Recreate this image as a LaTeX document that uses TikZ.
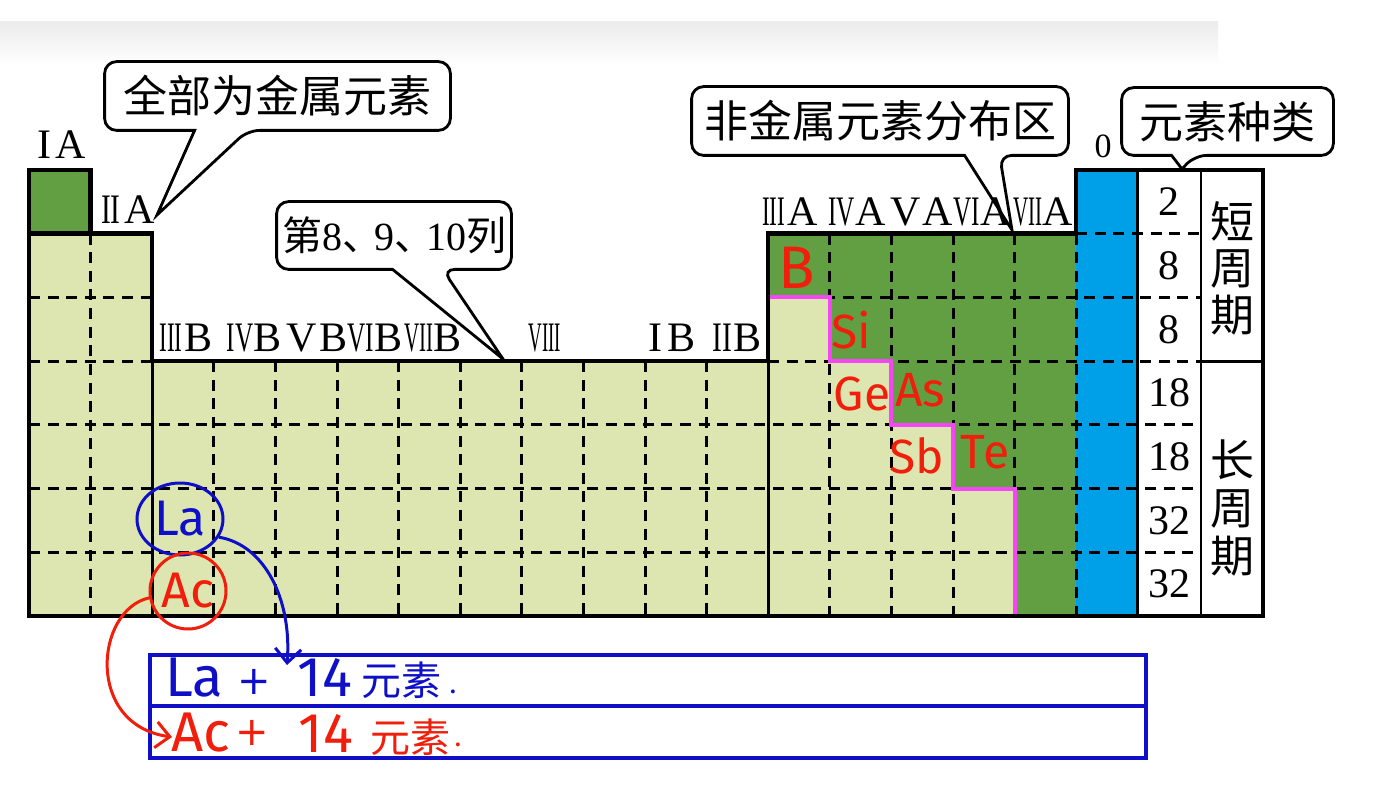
\documentclass[tikz,border=0pt]{standalone}
\usepackage{fontspec}
\usepackage{graphicx}
\setmainfont{Liberation Serif}
\newfontfamily\cjk{Noto Sans CJK SC}
\newfontfamily\handf{Fira Sans}
\newfontfamily\plusf{DejaVu Sans}
\usetikzlibrary{arrows.meta,calc,shapes.geometric}
\pgfdeclarelayer{back}
\pgfsetlayers{back,main}
\definecolor{lgreen}{RGB}{221,230,176}
\definecolor{dgreen}{RGB}{98,158,66}
\definecolor{cblue}{RGB}{0,160,233}
\definecolor{pmag}{RGB}{245,70,245}
\definecolor{hred}{RGB}{240,30,10}
\definecolor{hblue}{RGB}{15,15,200}
\definecolor{bandgray}{RGB}{236,236,236}
\newcommand{\RomN}[2]{\scalebox{#1}[1]{#2}}
\tikzset{
  outline/.style={line width=2.2pt, line join=miter},
  griddash/.style={line width=1.5pt, dash pattern=on 5.5pt off 3.8pt},
  thinsolid/.style={line width=1.4pt},
  callout/.style={draw, line width=1.4pt, fill=white},
  callouttext/.style={font=\cjk\fontsize{22}{24}\selectfont, inner sep=0pt},
  grp/.style={font=\fontsize{21}{21}\selectfont, inner sep=0pt},
  num/.style={font=\fontsize{21}{21}\selectfont, inner sep=0pt},
  vtxt/.style={font=\cjk\fontsize{22}{23.3}\selectfont, align=center, inner sep=0pt},
  redlab/.style={text=hred, font=\handf\fontsize{24}{24}\selectfont, inner sep=0pt},
  hwtext/.style={font=\handf\fontsize{28}{28}\selectfont, inner sep=0pt},
  hwplus/.style={font=\plusf\fontsize{20}{20}\selectfont, inner sep=0pt, text height=14pt, text depth=0pt},
  hwcjk/.style={font=\cjk\fontsize{20}{20}\selectfont, inner sep=0pt},
  hwarrow/.style={line width=1.5pt, -{Straight Barb[length=7pt,width=13pt,line width=1.5pt]}},
  bluebox/.style={draw=hblue, line width=2pt},
}
\begin{document}
\begin{tikzpicture}[x=0.5pt,y=-0.5pt]
\useasboundingbox (0,0) rectangle (1376,786);
\begin{pgfonlayer}{back}
  \fill[white] (0,0) rectangle (1376,786);
  \fill[top color=bandgray, bottom color=white] (0,22) rectangle (1218,66);
\end{pgfonlayer}

% ---- fills ----
\fill[lgreen] (29,233.7) rectangle (152.2,616);
\fill[lgreen] (152.2,361.1) rectangle (768.2,616);
\fill[dgreen] (29,170) rectangle (90.6,233.7);
\fill[dgreen] (768.2,233.7) rectangle (1076.2,616);
\fill[lgreen] (768.2,297.4) -- (829.8,297.4) -- (829.8,361.1) -- (891.4,361.1) -- (891.4,424.9) -- (953,424.9) -- (953,488.6) -- (1014.6,488.6) -- (1014.6,616) -- (768.2,616) -- cycle;
\fill[cblue] (1076.2,170) rectangle (1137.8,616);

% ---- dashed grid ----
\foreach \y in {297.4,361.1} {
  \draw[griddash] (29,\y) -- (152.2,\y);
  \draw[griddash] (768.2,\y) -- (1201,\y);
}
\foreach \y in {424.9,488.6,552.3} \draw[griddash] (29,\y) -- (1201,\y);
\draw[griddash] (1076.2,233.7) -- (1201,233.7);
\draw[griddash] (90.6,233.7) -- (90.6,616);
\foreach \x in {213.8,275.4,337,398.6,460.2,521.8,583.4,645,706.6} \draw[griddash] (\x,361.1) -- (\x,616);
\foreach \x in {829.8,891.4,953,1014.6,1076.2} \draw[griddash] (\x,233.7) -- (\x,616);

% ---- solid inner lines ----
\draw[thinsolid] (152.2,361.1) -- (152.2,616);
\draw[thinsolid] (768.2,361.1) -- (768.2,616);
\draw[thinsolid] (1137.8,170) -- (1137.8,616);
\draw[thinsolid] (1201,170) -- (1201,616);
\draw[thinsolid] (1201,361.1) -- (1263,361.1);

% ---- metalloid staircase ----
\draw[pmag, line width=2pt] (769.5,297.4) -- (829.8,297.4) -- (829.8,361.1) -- (891.4,361.1) -- (891.4,424.9) -- (953,424.9) -- (953,488.6) -- (1014.6,488.6) -- (1014.6,614);

% ---- outline ----
\draw[outline] (29,616) -- (29,170) -- (90.6,170) -- (90.6,233.7) -- (152.2,233.7) -- (152.2,361.1) -- (768.2,361.1) -- (768.2,233.7) -- (1076.2,233.7) -- (1076.2,170) -- (1263,170) -- (1263,616) -- cycle;
\draw[outline] (29,233.7) -- (90.6,233.7);

% ---- group labels ----
\node[grp] (gIA) at (62,145) {I\kern2pt A};
\node[grp] (gIIA) at (128,210) {\RomN{0.7}{II}\kern2pt A};
\node[grp] (gIIIB) at (186,338) {\RomN{0.55}{III}\kern1pt B};
\node[grp] (gIVB) at (254,338) {\RomN{0.6}{IV}B};
\node[grp] (gVB) at (317,338) {V\kern1pt B};
\node[grp] (gVIB) at (375,338) {\RomN{0.6}{VI}B};
\node[grp] (gVIIB) at (433,338) {\RomN{0.5}{VII}B};
\node[grp] (gVIII) at (545,338) {\RomN{0.45}{VIII}};
\node[grp] (gIB) at (672,338) {I\kern3pt B};
\node[grp] (gIIB) at (737,338) {\RomN{0.7}{II}\kern1pt B};
\node[grp] (gIIIA) at (790,212) {\RomN{0.55}{III}\kern1pt A};
\node[grp] (gIVA) at (857,212) {\RomN{0.6}{IV}A};
\node[grp] (gVA) at (922,212) {V\kern1pt A};
\node[grp] (gVIA) at (982,212) {\RomN{0.6}{VI}A};
\node[grp] (gVIIA) at (1043,212) {\RomN{0.5}{VII}A};
\node[grp, font=\fontsize{17}{17}\selectfont] (g0) at (1103,146) {0};

% ---- element counts ----
\node[num] (n1) at (1169,202) {2};
\node[num] (n2) at (1169,265.6) {8};
\node[num] (n3) at (1169,329.3) {8};
\node[num] (n4) at (1169,393) {18};
\node[num] (n5) at (1169,456.7) {18};
\node[num] (n6) at (1169,520.4) {32};
\node[num] (n7) at (1169,584.2) {32};
\node[vtxt] (shortp) at (1232,268) {短\\周\\期};
\node[vtxt, font=\cjk\fontsize{22}{24}\selectfont] (longp) at (1232,508) {长\\周\\期};

% ---- callouts ----
\node[callouttext, minimum width=172.5pt, minimum height=34pt] (c1) at (277.5,96) {全部为金属元素};
\node[callouttext, font=\cjk\fontsize{20}{24}\selectfont, minimum width=117pt, minimum height=33.5pt] (c2) at (394,235.5) {第{\rmfamily 8}、\kern-4pt{\rmfamily 9}、\kern-4pt{\rmfamily 10}列};
\node[callouttext, minimum width=188pt, minimum height=34pt] (c3) at (880,121) {非金属元素分布区};
\node[callouttext, minimum width=105.5pt, minimum height=33.5pt] (c4) at (1227.5,121.5) {元素种类};
\coordinate (t1) at (157,215);
\coordinate (t2) at (503,359);
\coordinate (t3) at (1012,230);
\coordinate (t4) at (1182,169);
\begin{pgfonlayer}{back}
\draw[callout, rounded corners=6pt] (c1.north west) -- (c1.north east) -- (c1.south east) -- ($(c1.south west)+(143,0)$) [sharp corners] -- (t1) -- ($(c1.south west)+(90,0)$) [rounded corners=6pt] -- (c1.south west) -- cycle;
\draw[callout, rounded corners=6pt] (c2.north west) -- (c2.north east) -- (c2.south east) -- ($(c2.south west)+(166,0)$) [sharp corners] -- (t2) -- ($(c2.south west)+(116,0)$) [rounded corners=6pt] -- (c2.south west) -- cycle;
\draw[callout, rounded corners=6pt] (c3.north west) -- (c3.north east) -- (c3.south east) -- ($(c3.south west)+(308,0)$) [sharp corners] -- (t3) -- ($(c3.south west)+(273,0)$) [rounded corners=6pt] -- (c3.south west) -- cycle;
\draw[callout, rounded corners=6pt] (c4.north west) -- (c4.north east) -- (c4.south east) -- ($(c4.south west)+(73,0)$) [sharp corners] -- (t4) -- ($(c4.south west)+(50,0)$) [rounded corners=6pt] -- (c4.south west) -- cycle;
\end{pgfonlayer}

% ---- red handwriting ----
\node[redlab, font=\handf\fontsize{30}{30}\selectfont] (eB) at (797,268) {B};
\node[redlab] (eSi) at (851,330) {Si};
\node[redlab] (eGe) at (862,394) {Ge};
\node[redlab] (eAs) at (920,390) {As};
\node[redlab] (eSb) at (917,456) {Sb};
\node[redlab] (eTe) at (985,452) {Te};

% ---- lanthanide / actinide notes ----
\draw[bluebox] (150,655) rectangle (1146,758);
\draw[bluebox] (150,705.5) -- (1146,705.5);
\node[ellipse, draw=hblue, line width=1.5pt, minimum width=43pt, minimum height=36pt, inner sep=0pt, text=hblue, font=\handf\fontsize{25}{25}\selectfont] (la) at (180,519) {La};
\node[circle, draw=hred, line width=1.5pt, minimum size=38pt, inner sep=0pt, text=hred, font=\handf\fontsize{25}{25}\selectfont] (ac) at (188,591) {Ac};
\coordinate (laend) at (287,665);
\coordinate (acend) at (172,737);
\draw[hwarrow, hblue] (la.-25) .. controls (265,545) and (292,600) .. (laend);
\draw[hwarrow, hred] (ac.190) .. controls (95,610) and (85,725) .. (acend);

\node[hwtext, text=hblue] (r1a) at (194,678) {La};
\node[hwplus, text=hblue] (r1b) at (254,680) {+};
\node[hwtext, text=hblue] (r1c) at (325,677) {14};
\node[hwcjk, text=hblue] (r1d) at (401,680) {元素};
\node[hwtext, text=hblue, font=\handf\fontsize{14}{14}\selectfont] (r1e) at (453,692) {.};
\node[hwtext, text=hred] (r2a) at (201,733) {Ac};
\node[hwplus, text=hred] (r2b) at (252,731) {+};
\node[hwtext, text=hred] (r2c) at (326,733) {14};
\node[hwcjk, text=hred] (r2d) at (410,737) {元素};
\node[hwtext, text=hred, font=\handf\fontsize{14}{14}\selectfont] (r2e) at (458,745) {.};
\end{tikzpicture}
\end{document}
